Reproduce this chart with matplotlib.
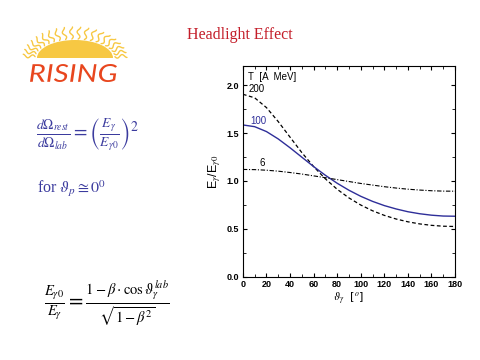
import numpy as np
import matplotlib
matplotlib.use('Agg')
import matplotlib.pyplot as plt
from matplotlib.patches import Ellipse, PathPatch
from matplotlib.textpath import TextPath
from matplotlib.font_manager import FontProperties
from matplotlib.transforms import Affine2D
from matplotlib.ticker import MultipleLocator

plt.rcParams['mathtext.fontset'] = 'stix'

# angle in degrees and E_gamma / E_gamma0
theta = [0, 10, 20, 30, 40, 50, 60, 70, 80, 90, 100, 110, 120, 130, 140, 150, 160, 170, 180]
ratio_200 = [1.904, 1.867, 1.765, 1.619, 1.457, 1.296, 1.150, 1.022, 0.913, 0.823,
             0.749, 0.689, 0.641, 0.603, 0.574, 0.552, 0.537, 0.528, 0.525]
ratio_100 = [1.584, 1.566, 1.515, 1.438, 1.346, 1.248, 1.150, 1.059, 0.976, 0.903,
             0.840, 0.787, 0.743, 0.708, 0.679, 0.658, 0.643, 0.634, 0.632]
ratio_6 = [1.120, 1.118, 1.112, 1.102, 1.088, 1.072, 1.053, 1.034, 1.014, 0.994,
           0.974, 0.957, 0.940, 0.926, 0.914, 0.905, 0.898, 0.894, 0.893]
energy_labels = ['200', '100', '6']

fig = plt.figure(figsize=(4.8, 3.6), dpi=100)
fig.patch.set_facecolor('white')

# overlay in pixel units for the slide decoration
deco = fig.add_axes([0, 0, 1, 1], zorder=0)
deco.set_xlim(0, 480)
deco.set_ylim(360, 0)
deco.axis('off')

# sun logo
cx, cy = 75, 58
sun_col = '#f7c843'
for a in np.linspace(4, 176, 20):
    r = np.radians(a)
    t = np.linspace(0, 1, 25)
    ex = cx + (40 + 12 * t) * np.cos(r)
    ey = cy - (19 + 12 * t) * np.sin(r)
    w = 1.6 * np.sin(t * 2.5 * np.pi)
    deco.plot(ex + w * np.sin(r), ey + w * np.cos(r), color=sun_col, lw=1.0,
              solid_capstyle='round')
deco.add_patch(Ellipse((cx, cy), 76, 36, facecolor=sun_col, edgecolor='none'))
deco.add_patch(plt.Rectangle((cx - 45, cy), 90, 22, facecolor='white', edgecolor='none'))

tp = TextPath((0, 0), 'RISING', size=10,
              prop=FontProperties(family='Lato', style='italic'))
bb = tp.get_extents()
sx = 87 / bb.width
sy = 18 / bb.height
tr = Affine2D().translate(-bb.x0, -bb.y0).scale(sx, -sy).translate(30, 82)
deco.add_patch(PathPatch(tr.transform_path(tp), facecolor='#e8461e', edgecolor='none'))

# title
fig.text(0.5, 0.903, 'Headlight Effect', ha='center', va='center',
         fontsize=11.5, family='Liberation Serif', color='#c41e2a')

# formulas
blue = '#3b3b9e'
fig.text(0.075, 0.625,
         r'$\frac{d\Omega_{rest}}{d\Omega_{lab}} = \left(\frac{E_\gamma}{E_{\gamma 0}}\right)^2$',
         fontsize=14, color=blue, va='center', ha='left')
fig.text(0.077, 0.475, r'for $\vartheta_p \cong 0^0$', fontsize=11.5,
         family='Liberation Serif', color=blue, va='center', ha='left')
fig.text(0.092, 0.155,
         r'$\frac{E_{\gamma 0}}{E_\gamma} = \frac{1-\beta\cdot\cos\vartheta_\gamma^{lab}}{\sqrt{1-\beta^2}}$',
         fontsize=15, color='black', va='center', ha='left')

# chart
ax = fig.add_axes([0.506, 0.231, 0.442, 0.586])
ax.plot(theta, ratio_200, color='black', lw=0.9, ls=(0, (3, 2)))
ax.plot(theta, ratio_100, color='#2e2e99', lw=1.0)
ax.plot(theta, ratio_6, color='black', lw=0.8, ls=(0, (4, 1.5, 1, 1.5)))

ax.set_xlim(0, 180)
ax.set_ylim(0, 2.2)
ax.xaxis.set_major_locator(MultipleLocator(20))
ax.xaxis.set_minor_locator(MultipleLocator(10))
ax.yaxis.set_major_locator(MultipleLocator(0.5))
ax.yaxis.set_minor_locator(MultipleLocator(0.25))
ax.tick_params(which='both', direction='in', top=True, right=True, labelsize=6.5, pad=2.5)
ax.tick_params(which='major', length=3)
ax.tick_params(which='minor', length=2)
ax.set_yticklabels(['%.1f' % v for v in ax.get_yticks()])
for lab in ax.get_xticklabels() + ax.get_yticklabels():
    lab.set_family('Liberation Sans')
    lab.set_fontweight('bold')
for s in ax.spines.values():
    s.set_linewidth(0.8)

ax.set_xlabel(r'$\vartheta_\gamma$  [$^o$]', fontsize=8, labelpad=1)
ax.set_ylabel(r'E$_\gamma$/E$_{\gamma 0}$', fontsize=9, labelpad=3, family='Liberation Sans')

ax.text(4, 2.14, 'T  [A  MeV]', fontsize=7, va='top', family='Liberation Sans')
ax.text(5, 1.96, energy_labels[0], fontsize=7, va='center', family='Liberation Sans')
ax.text(6, 1.63, energy_labels[1], fontsize=7, va='center', color='#2e2e99', family='Liberation Sans')
ax.text(14, 1.19, energy_labels[2], fontsize=7, va='center', family='Liberation Sans')

fig.savefig('out.png', dpi=100)
